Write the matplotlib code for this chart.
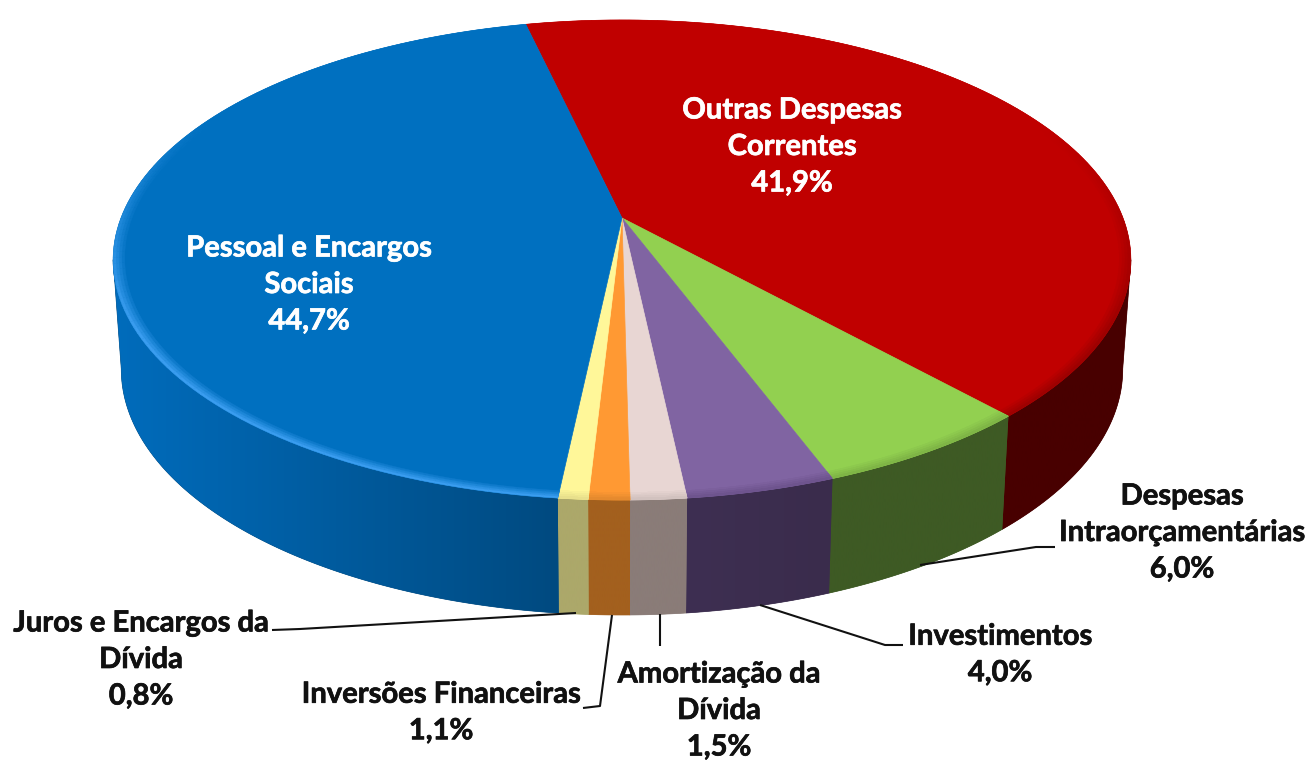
import numpy as np
import matplotlib
matplotlib.use('Agg')
import matplotlib.pyplot as plt
import matplotlib.patheffects as pe
from matplotlib.patches import Polygon

# slices, clockwise starting with the red one
names = ['Outras Despesas\nCorrentes', 'Despesas\nIntraorçamentárias', 'Investimentos',
         'Amortização da\nDívida', 'Inversões Financeiras', 'Juros e Encargos da\nDívida',
         'Pessoal e Encargos\nSociais']
values = [41.9, 6.0, 4.0, 1.5, 1.1, 0.8, 44.7]
value_labels = ['41,9%', '6,0%', '4,0%', '1,5%', '1,1%', '0,8%', '44,7%']
top_colors = ['#C00000', '#92D050', '#8064A2', '#E8D6D3', '#FF9933', '#FFF799', '#0070C0']
rim_colors = ['#9E0000', '#7FB546', '#6E548E', '#D2C2BF', '#E58A2E', '#E8E08C', '#3A9DF0']
wall_right = ['#480000', '#3E5A24', '#3A2C4C', '#8A7C78', '#A3601E', '#ACA86A', '#004A80']
wall_left = ['#480000', '#3E5A24', '#3E2F52', '#8A7C78', '#A3601E', '#ACA86A', '#006CBC']

# picture geometry, in pixels
W, H = 1314, 762
cx, cy = 622, 218
B, A, k = 501, 232.65, -0.175
start_angle = -13
wall_shrink = 0.984
wall_from, wall_to = 100, 260  # the part of the rim that faces the viewer


def project(theta, r=1.0):
    # tilted circle, the near side comes out bigger
    u = r * np.sin(np.radians(theta))
    v = -r * np.cos(np.radians(theta))
    d = 1 + k * v
    return cx + B * u / d, cy + A * v / d


def wall_bottom(theta):
    x, y = project(theta)
    v = -np.cos(np.radians(theta))
    return cx + (x - cx) * wall_shrink, y + 108 + 7 * np.clip(v, 0, 1)


def mix(c1, c2, t):
    a = np.array(matplotlib.colors.to_rgb(c1))
    b = np.array(matplotlib.colors.to_rgb(c2))
    return tuple(a + (b - a) * t)


fig = plt.figure(figsize=(W / 100, H / 100), dpi=100)
ax = fig.add_axes([0, 0, 1, 1])
plt.rcParams['font.family'] = ['Lato', 'DejaVu Sans']

edges = start_angle + np.concatenate([[0], np.cumsum(values)]) * 3.6

# side walls first, each one a horizontal gradient clipped to its shape
for i in range(len(values)):
    th = np.linspace(max(edges[i], wall_from), min(edges[i + 1], wall_to), 200)
    xt, yt = project(th)
    xb, yb = wall_bottom(th)
    pts = list(zip(xt, yt)) + list(zip(xb[::-1], yb[::-1]))
    x0, x1 = min(xt.min(), xb.min()), max(xt.max(), xb.max())
    shape = Polygon(pts, closed=True, fc=wall_right[i], ec=wall_right[i], lw=0.5, zorder=1)
    ax.add_patch(shape)
    grad = np.array([[mix(wall_left[i], wall_right[i], t) for t in np.linspace(0, 1, 256)]])
    im = ax.imshow(grad, extent=(x0, x1, 762, 0), aspect='auto', interpolation='bilinear', zorder=1.5)
    im.set_clip_path(shape)

ax.set_xlim(0, W)
ax.set_ylim(H, 0)
ax.axis('off')

# top face
for i in range(len(values)):
    th = np.linspace(edges[i], edges[i + 1], 120)
    x, y = project(th)
    pts = [(cx, cy)] + list(zip(x, y))
    ax.add_patch(Polygon(pts, closed=True, fc=top_colors[i], ec=top_colors[i], lw=0.5, zorder=2))
    # soft bevel round the edge, only really visible on the near side
    rings = np.linspace(0.978, 1.0, 5)
    for n in range(len(rings) - 1):
        xa, ya = project(th, rings[n])
        xb, yb = project(th, rings[n + 1])
        for m in range(0, len(th) - 1):
            front = np.clip((-np.cos(np.radians(th[m])) + 0.45) / 0.9, 0, 1)
            col = mix(top_colors[i], rim_colors[i], front * (n + 1) / 4)
            quad = [(xa[m], ya[m]), (xa[m + 1], ya[m + 1]), (xb[m + 1], yb[m + 1]), (xb[m], yb[m])]
            ax.add_patch(Polygon(quad, closed=True, fc=col, ec=col, lw=0.3, zorder=2))

# labels
font = dict(fontsize=21, fontweight='bold', ha='center', va='center', linespacing=1.5, zorder=4)
white_edge = [pe.withStroke(linewidth=0.5, foreground='white')]
dark_edge = [pe.withStroke(linewidth=0.5, foreground='#111111')]
ax.text(792, 147, names[0] + '\n' + value_labels[0], color='white', path_effects=white_edge, **font)
ax.text(309, 285, names[6] + '\n' + value_labels[6], color='white', path_effects=white_edge, **font)
ax.text(1182, 533, names[1] + '\n' + value_labels[1], color='#111111', path_effects=dark_edge, **font)
ax.text(1000, 655, names[2] + '\n' + value_labels[2], color='#111111', path_effects=dark_edge, **font)
ax.text(719, 711, names[3] + '\n' + value_labels[3], color='#111111', path_effects=dark_edge, **font)
ax.text(441, 713, names[4] + '\n' + value_labels[4], color='#111111', path_effects=dark_edge, **font)
ax.text(141, 660, names[5] + '\n' + value_labels[5], color='#111111', path_effects=dark_edge, **font)

# leader lines
leaders = [
    ([1055, 1036, 920], [547, 547, 565]),
    ([903, 885, 760], [645, 645, 605]),
    ([660, 660], [614, 646]),
    ([583, 600, 612], [708, 706, 615]),
    ([272, 300, 576], [630, 629, 613]),
]
for lx, ly in leaders:
    ax.plot(lx, ly, color='#111111', lw=1.5, solid_capstyle='butt', zorder=3)

fig.savefig('out.png', dpi=100, facecolor='white')
